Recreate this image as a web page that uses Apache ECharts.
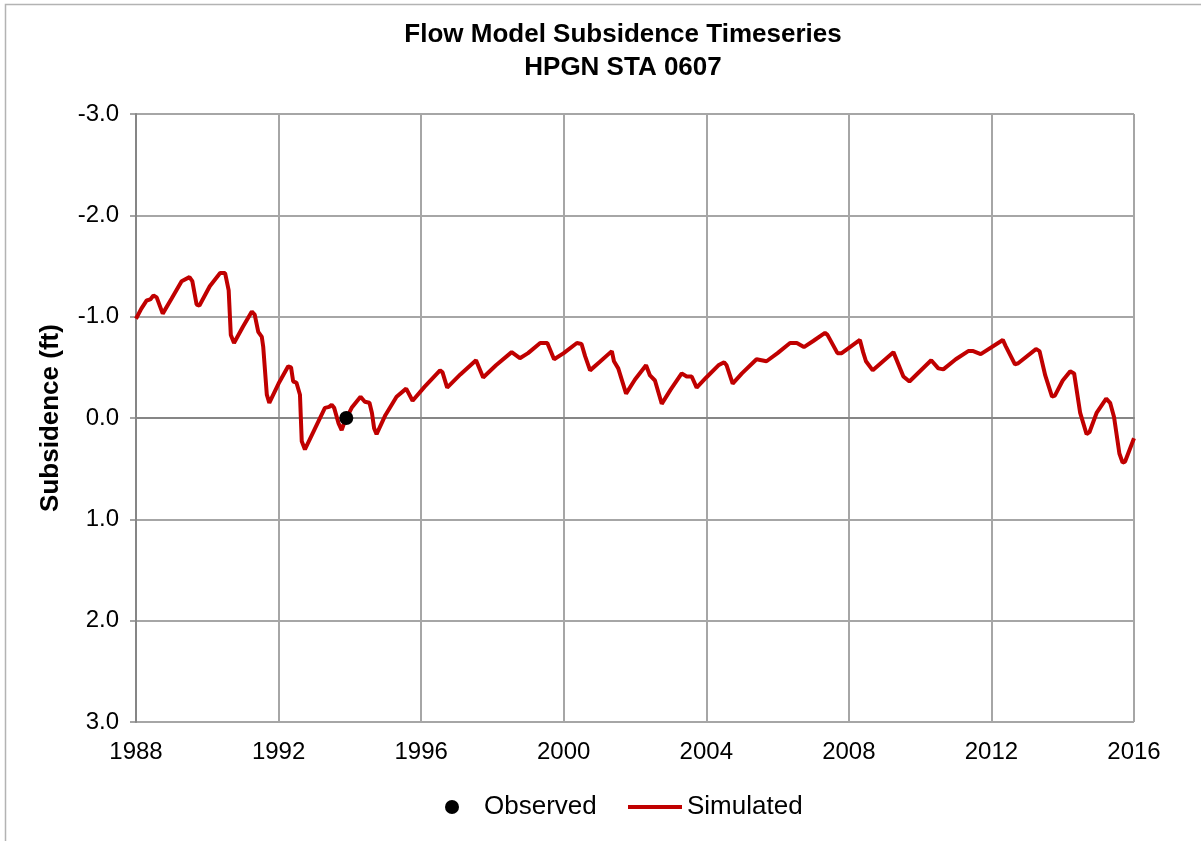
<!DOCTYPE html>
<html>
<head>
<meta charset="utf-8">
<script src="https://cdn.jsdelivr.net/npm/echarts@6/dist/echarts.min.js"></script>
<style>
  html, body { margin: 0; padding: 0; background: #fff; }
  #chart { width: 1201px; height: 841px; }
</style>
</head>
<body>
<div id="chart"></div>
<script>
// Simulated subsidence (ft), decimal years
const simYears = [
  1988.00, 1988.15, 1988.30, 1988.40, 1988.49, 1988.58, 1988.75, 1989.00, 1989.28, 1989.50,
  1989.58, 1989.70, 1989.78, 1990.07, 1990.36, 1990.50, 1990.60, 1990.66, 1990.75, 1991.00,
  1991.25, 1991.33, 1991.43, 1991.53, 1991.57, 1991.67, 1991.74, 1992.00, 1992.27, 1992.35,
  1992.41, 1992.50, 1992.60, 1992.65, 1992.74, 1993.00, 1993.30, 1993.42, 1993.49, 1993.56,
  1993.68, 1993.77, 1993.85, 1994.05, 1994.30, 1994.42, 1994.55, 1994.62, 1994.68, 1994.75,
  1995.00, 1995.31, 1995.58, 1995.76, 1996.10, 1996.53, 1996.60, 1996.73, 1997.10, 1997.54,
  1997.74, 1998.10, 1998.54, 1998.77, 1999.00, 1999.34, 1999.54, 1999.73, 2000.00, 2000.37,
  2000.50, 2000.60, 2000.74, 2001.00, 2001.35, 2001.41, 2001.53, 2001.75, 2002.00, 2002.31,
  2002.42, 2002.56, 2002.75, 2003.00, 2003.31, 2003.45, 2003.59, 2003.73, 2004.00, 2004.34,
  2004.50, 2004.57, 2004.74, 2005.00, 2005.41, 2005.69, 2006.00, 2006.35, 2006.54, 2006.74,
  2007.00, 2007.33, 2007.40, 2007.68, 2007.80, 2008.31, 2008.40, 2008.48, 2008.67, 2009.25,
  2009.30, 2009.53, 2009.70, 2010.31, 2010.51, 2010.65, 2011.00, 2011.35, 2011.49, 2011.70,
  2012.32, 2012.40, 2012.66, 2012.75, 2013.25, 2013.35, 2013.51, 2013.70, 2013.78, 2014.00,
  2014.21, 2014.32, 2014.49, 2014.67, 2014.75, 2014.95, 2015.22, 2015.33, 2015.44, 2015.59,
  2015.68, 2015.75, 2016.00
];
const simValues = [
  -0.98, -1.08, -1.16, -1.17, -1.21, -1.19, -1.03, -1.18, -1.35, -1.39,
  -1.35, -1.12, -1.11, -1.30, -1.43, -1.43, -1.26, -0.82, -0.74, -0.90,
  -1.05, -1.02, -0.85, -0.80, -0.70, -0.23, -0.15, -0.34, -0.51, -0.50,
  -0.36, -0.35, -0.23, 0.23, 0.31, 0.12, -0.10, -0.11, -0.13, -0.10,
  0.05, 0.12, 0.04, -0.10, -0.21, -0.16, -0.15, -0.05, 0.10, 0.16,
  -0.03, -0.21, -0.29, -0.17, -0.31, -0.47, -0.45, -0.30, -0.43, -0.57,
  -0.40, -0.52, -0.65, -0.59, -0.64, -0.74, -0.74, -0.58, -0.64, -0.74,
  -0.73, -0.61, -0.47, -0.55, -0.66, -0.56, -0.49, -0.24, -0.38, -0.52,
  -0.42, -0.37, -0.14, -0.28, -0.44, -0.41, -0.41, -0.30, -0.40, -0.52,
  -0.55, -0.52, -0.34, -0.44, -0.58, -0.56, -0.64, -0.74, -0.74, -0.70,
  -0.76, -0.84, -0.82, -0.64, -0.64, -0.77, -0.65, -0.56, -0.47, -0.65,
  -0.64, -0.41, -0.36, -0.57, -0.49, -0.48, -0.58, -0.66, -0.66, -0.63,
  -0.77, -0.71, -0.53, -0.54, -0.68, -0.66, -0.42, -0.21, -0.22, -0.37,
  -0.46, -0.44, -0.05, 0.16, 0.14, -0.05, -0.19, -0.15, -0.01, 0.35,
  0.44, 0.43, 0.20
];

// Observed survey point
const obsYears = [1993.9];
const obsValues = [0.0];

const font = "'Liberation Sans', Arial, sans-serif";
const chart = echarts.init(document.getElementById("chart"));

chart.setOption({
  animation: false,
  backgroundColor: "#ffffff",
  textStyle: { fontFamily: font },
  graphic: [{
    type: "rect",
    shape: { x: 5.5, y: 4.5, width: 1210, height: 850 },
    style: { fill: "none", stroke: "#b3b3b3", lineWidth: 1.5 },
    silent: true
  }],
  title: {
    text: "Flow Model Subsidence Timeseries\nHPGN STA 0607",
    left: 618,
    top: 13,
    textAlign: "center",
    textStyle: { fontFamily: font, fontSize: 26, fontWeight: "bold", color: "#000", lineHeight: 33 }
  },
  legend: [
    {
      top: 789,
      left: 440,
      itemWidth: 14,
      itemHeight: 14,
      textStyle: { fontFamily: font, fontSize: 26, color: "#000", padding: [0, 0, 0, 20] },
      data: [{ name: "Observed", icon: "circle", itemStyle: { color: "#000", opacity: 1 } }]
    },
    {
      top: 789,
      left: 623,
      itemWidth: 54,
      itemHeight: 4,
      textStyle: { fontFamily: font, fontSize: 26, color: "#000" },
      data: [{ name: "Simulated", icon: "rect", itemStyle: { color: "#c00000" } }]
    }
  ],
  grid: { left: 136, right: 67, top: 114, bottom: 119, containLabel: false },
  xAxis: {
    type: "value",
    min: 1988,
    max: 2016,
    interval: 4,
    axisLine: { show: true, lineStyle: { color: "#868686", width: 2 } },
    axisTick: { show: false },
    axisLabel: { fontFamily: font, fontSize: 24, color: "#000", margin: 18, formatter: (v) => String(v) },
    splitLine: { show: true, lineStyle: { color: "#a6a6a6", width: 2 } }
  },
  yAxis: {
    type: "value",
    inverse: true,
    min: -3,
    max: 3,
    interval: 1,
    name: "Subsidence (ft)",
    nameLocation: "middle",
    nameGap: 72,
    nameRotate: 90,
    nameTextStyle: { fontFamily: font, fontSize: 26, fontWeight: "bold", color: "#000" },
    axisLine: { show: true, onZero: false, lineStyle: { color: "#868686", width: 2 } },
    axisTick: { show: true, length: 6, lineStyle: { color: "#868686", width: 1.5 } },
    axisLabel: { fontFamily: font, fontSize: 24, color: "#000", margin: 17, formatter: (v) => v.toFixed(1) },
    splitLine: { show: true, lineStyle: { color: "#a6a6a6", width: 2 } }
  },
  series: [
    {
      name: "Observed",
      type: "scatter",
      symbol: "circle",
      symbolSize: 14,
      itemStyle: { color: "#000", opacity: 1 },
      z: 5,
      data: obsYears.map((y, i) => [y, obsValues[i]])
    },
    {
      name: "Simulated",
      type: "line",
      showSymbol: false,
      symbol: "none",
      lineStyle: { color: "#c00000", width: 4 },
      itemStyle: { color: "#c00000" },
      data: simYears.map((y, i) => [y, simValues[i]])
    }
  ]
});
</script>
</body>
</html>
